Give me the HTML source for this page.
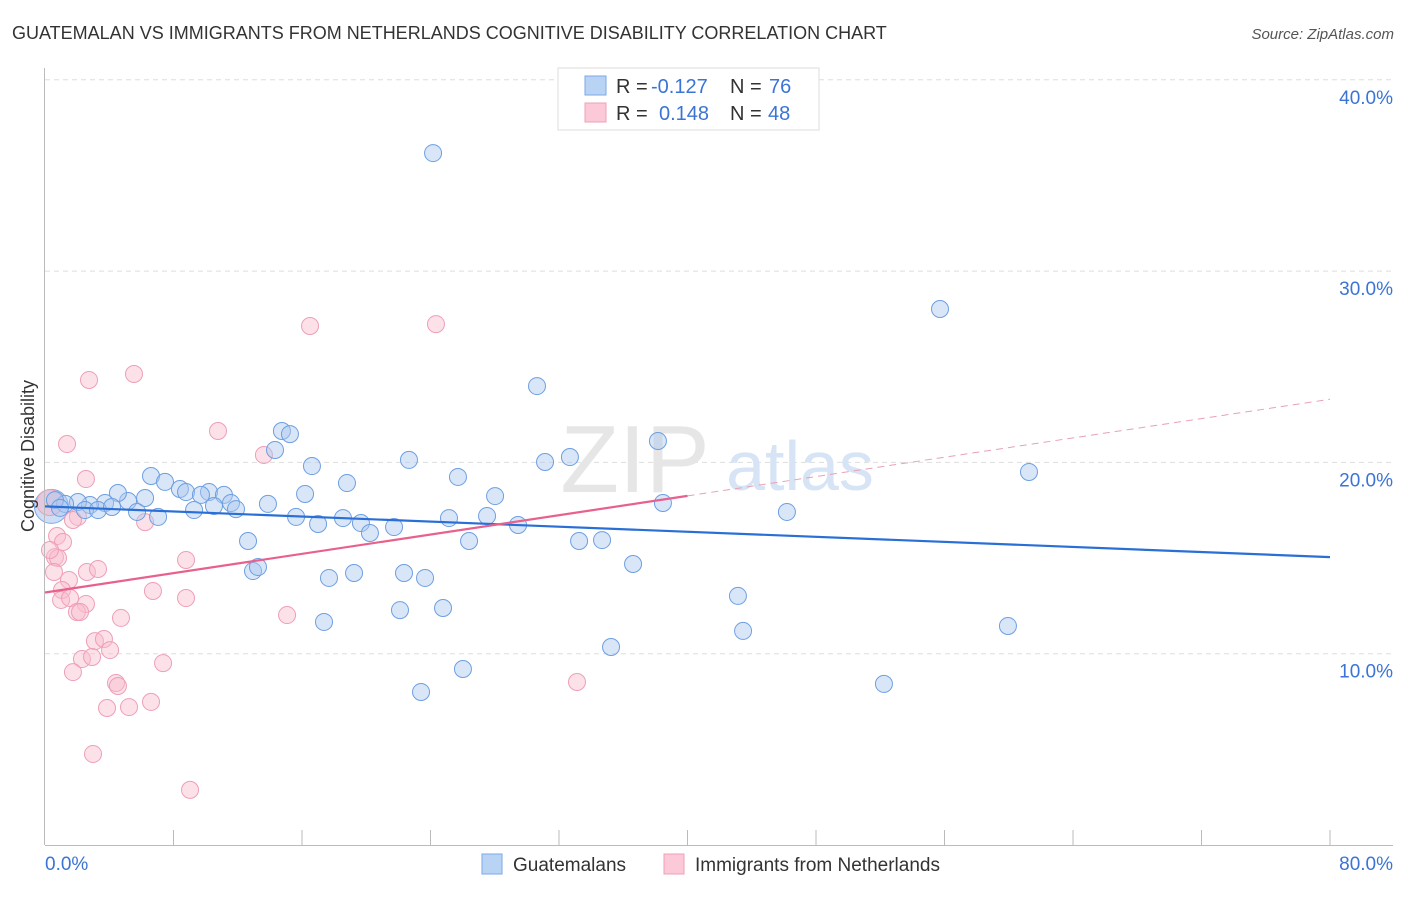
<!DOCTYPE html>
<html><head><meta charset="utf-8"><style>
body{margin:0;background:#fff;font-family:"Liberation Sans",sans-serif;}
svg text{font-family:"Liberation Sans",sans-serif;}
</style></head><body>
<svg id="chart" width="1406" height="892">
<text x="12" y="39" font-size="18" fill="#333">GUATEMALAN VS IMMIGRANTS FROM NETHERLANDS COGNITIVE DISABILITY CORRELATION CHART</text>
<text x="1394" y="39" font-size="15" fill="#555" font-style="italic" text-anchor="end">Source: ZipAtlas.com</text>
<g id="grid"></g>
<text x="635" y="492" font-size="96" fill="#e6e6e6" font-family="Liberation Serif" text-anchor="middle">ZIP</text>
<text x="800" y="490" font-size="70" fill="#d6e4f5" text-anchor="middle">atlas</text>
<g id="marks"></g>
<g id="axes"></g>
<text x="34" y="456" font-size="18" fill="#333" text-anchor="middle" transform="rotate(-90 34 456)">Cognitive Disability</text>
<g>
<rect x="558" y="68" width="261" height="62" fill="#fff" stroke="#ddd"/>
<rect x="585" y="76" width="21" height="19" fill="#b9d3f5" stroke="#7aa8e6"/>
<rect x="585" y="103" width="21" height="19" fill="#fcc9d8" stroke="#eea0b7"/>
<text y="93" font-size="20" fill="#333"><tspan x="616">R =</tspan><tspan x="651" fill="#3b74d6">-0.127</tspan><tspan x="730">N =</tspan><tspan x="769" fill="#3b74d6">76</tspan></text>
<text y="120" font-size="20" fill="#333"><tspan x="616">R =</tspan><tspan x="659" fill="#3b74d6">0.148</tspan><tspan x="730">N =</tspan><tspan x="768" fill="#3b74d6">48</tspan></text>
</g>
<g>
<rect x="482" y="854" width="20" height="20" fill="#b9d3f5" stroke="#7aa8e6"/>
<text x="513" y="871" font-size="19" fill="#333">Guatemalans</text>
<rect x="664" y="854" width="20" height="20" fill="#fcc9d8" stroke="#eea0b7"/>
<text x="695" y="871" font-size="19" fill="#333">Immigrants from Netherlands</text>
</g>
</svg>
<script>
const yTicks=[10,20,30,40];
const xTickLabels=["0.0%","80.0%"];
const bluePx=[[433,153],[940,309],[537,386],[658,441],[1029,472],[282,431],[290,434],[275,450],[312,466],[409,460],[545,462],[570,457],[458,477],[151,476],[165,482],[180,489],[186,492],[209,492],[201,495],[224,495],[231,503],[236,509],[214,506],[194,510],[145,498],[128,501],[118,493],[105,503],[90,505],[78,502],[65,504],[55,500],[60,508],[85,510],[98,510],[112,507],[137,512],[158,517],[268,504],[305,494],[347,483],[495,496],[663,503],[787,512],[296,517],[318,524],[343,518],[361,523],[370,533],[394,527],[449,518],[487,516],[518,525],[248,541],[469,541],[579,541],[602,540],[633,564],[253,571],[258,567],[329,578],[354,573],[404,573],[425,578],[443,608],[400,610],[324,622],[738,596],[743,631],[1008,626],[611,647],[463,669],[421,692],[884,684]];
const pinkPx=[[310,326],[436,324],[134,374],[89,380],[218,431],[67,444],[264,455],[86,479],[78,517],[73,520],[145,522],[57,536],[63,542],[55,557],[58,558],[50,550],[54,572],[69,580],[62,590],[186,560],[87,572],[98,569],[153,591],[186,598],[86,604],[61,600],[70,598],[77,612],[80,612],[121,618],[287,615],[95,641],[104,639],[110,650],[82,659],[92,657],[163,663],[73,672],[116,683],[118,686],[577,682],[107,708],[129,707],[151,702],[93,754],[190,790]];
const blueX=bluePx.map(p=>+((p[0]-45)/1285*80).toFixed(2));
const blueY=bluePx.map(p=>+((845-p[1])/19.13).toFixed(2));
const pinkX=pinkPx.map(p=>+((p[0]-45)/1285*80).toFixed(2));
const pinkY=pinkPx.map(p=>+((845-p[1])/19.13).toFixed(2));
const blueTrend=[17.7,15.05];
const pinkTrend=[13.2,23.3];
const X=v=>45+v/80*1285, Y=v=>845-v*19.13;
const NS="http://www.w3.org/2000/svg";
function mk(tag,attrs,parent,txt){const e=document.createElementNS(NS,tag);for(const k in attrs)e.setAttribute(k,attrs[k]);if(txt!=null)e.textContent=txt;parent.appendChild(e);return e;}
const grid=document.getElementById('grid'),axes=document.getElementById('axes'),marks=document.getElementById('marks');
yTicks.forEach(t=>{
 const l=mk('line',{x1:45,x2:1393,y1:Y(t),y2:Y(t),stroke:'#ddd','stroke-dasharray':'5,4'},grid);
 
 
 const tx=mk('text',{x:1393,y:Y(t)+24,'font-size':19,fill:'#3b74d6','text-anchor':'end'},axes,t.toFixed(1)+'%');
 
 
});
const ya=mk('line',{x1:44.5,x2:44.5,y1:68,y2:845,stroke:'#bbb'},axes);


const xa=mk('line',{x1:45,x2:1393,y1:845.5,y2:845.5,stroke:'#bbb'},axes);


for(let i=1;i<=10;i++){const t=mk('line',{x1:X(i*8),x2:X(i*8),y1:830,y2:845,stroke:'#bbb'},axes);
 
 }
const xl0=mk('text',{x:45,y:870,'font-size':19,fill:'#3b74d6'},axes,xTickLabels[0]);


const xl1=mk('text',{x:1393,y:870,'font-size':19,fill:'#3b74d6','text-anchor':'end'},axes,xTickLabels[1]);


const bb=mk('circle',{cx:X(0.4),cy:Y(17.7),r:17,fill:'rgba(160,190,240,0.5)',stroke:'#7aa8e6'},marks);


const pb=mk('circle',{cx:X(0.3),cy:Y(17.9),r:13,fill:'rgba(245,180,200,0.5)',stroke:'#eea0b7'},marks);


pinkX.forEach((x,i)=>{const c=mk('circle',{cx:X(x),cy:Y(pinkY[i]),r:8.5,fill:'rgba(248,188,206,0.45)',stroke:'#ee9fb8','stroke-width':1},marks);
 
 });
blueX.forEach((x,i)=>{const c=mk('circle',{cx:X(x),cy:Y(blueY[i]),r:8.5,fill:'rgba(170,200,240,0.45)',stroke:'#6d9fe2','stroke-width':1},marks);
 
 });
const bt=mk('line',{x1:X(0),y1:Y(blueTrend[0]),x2:X(80),y2:Y(blueTrend[1]),stroke:'#2a6fd6','stroke-width':2.2},marks);


const pm=v=>pinkTrend[0]+(pinkTrend[1]-pinkTrend[0])*v/80;
const ps=mk('line',{x1:X(0),y1:Y(pm(0)),x2:X(40),y2:Y(pm(40)),stroke:'#e8608c','stroke-width':2.2},marks);


const pd=mk('line',{x1:X(40),y1:Y(pm(40)),x2:X(80),y2:Y(pm(80)),stroke:'#e8a0b8','stroke-width':1,'stroke-dasharray':'7,5'},marks);


</script>
</body></html>
